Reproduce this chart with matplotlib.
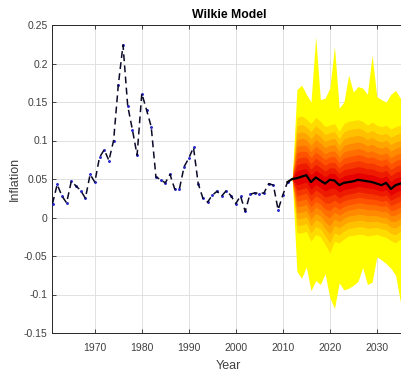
import matplotlib
matplotlib.use("Agg")
import matplotlib.pyplot as plt
import numpy as np

# ---------------- data ----------------
hist_years = list(range(1961, 2012))
hist_infl = [0.018, 0.043, 0.028, 0.019, 0.047, 0.041, 0.035, 0.025, 0.056, 0.046,
             0.078, 0.088, 0.074, 0.100, 0.172, 0.224, 0.145, 0.114, 0.081, 0.161,
             0.140, 0.118, 0.053, 0.049, 0.045, 0.056, 0.037, 0.037, 0.066, 0.077,
             0.091, 0.044, 0.025, 0.020, 0.029, 0.034, 0.028, 0.035, 0.028, 0.018,
             0.028, 0.008, 0.030, 0.032, 0.031, 0.032, 0.044, 0.042, 0.010, 0.029,
             0.046]

proj_years = list(range(2012, 2037))
proj_median = [0.050, 0.051, 0.053, 0.055, 0.046, 0.052, 0.048, 0.044, 0.049, 0.048,
               0.042, 0.045, 0.046, 0.047, 0.049, 0.048, 0.047, 0.046, 0.044, 0.042,
               0.045, 0.037, 0.042, 0.044, 0.045]

# 2013..2036
proj_max = [0.166, 0.172, 0.160, 0.150, 0.235, 0.153, 0.155, 0.168, 0.222, 0.142,
            0.150, 0.185, 0.163, 0.170, 0.168, 0.160, 0.211, 0.157, 0.153, 0.150,
            0.160, 0.165, 0.155, 0.200]
proj_min = [-0.070, -0.079, -0.064, -0.095, -0.082, -0.087, -0.073, -0.104, -0.118, -0.085,
            -0.094, -0.092, -0.088, -0.083, -0.065, -0.087, -0.084, -0.051, -0.055, -0.060,
            -0.066, -0.075, -0.109, -0.090]
proj_p95 = [0.130, 0.132, 0.128, 0.122, 0.130, 0.125, 0.118, 0.120, 0.122, 0.112,
            0.122, 0.125, 0.126, 0.127, 0.125, 0.120, 0.124, 0.120, 0.118, 0.120,
            0.115, 0.118, 0.120, 0.122]
proj_p5 = [-0.020, -0.020, -0.018, -0.031, -0.022, -0.025, -0.035, -0.046, -0.031, -0.033,
           -0.028, -0.024, -0.023, -0.022, -0.022, -0.024, -0.023, -0.022, -0.024, -0.026,
           -0.030, -0.033, -0.028, -0.026]

# relative position of inner band edges between median and p95/p5
band_fracs = [1.0, 0.86, 0.74, 0.63, 0.52, 0.42, 0.32, 0.22, 0.12]

ytick_vals = [-0.15, -0.1, -0.05, 0, 0.05, 0.1, 0.15, 0.2, 0.25]
ytick_labels = ["-0.15", "-0.1", "-0.05", "0", "0.05", "0.1", "0.15", "0.2", "0.25"]
xtick_vals = [1970, 1980, 1990, 2000, 2010, 2020, 2030]

# ---------------- plot ----------------
plt.rcParams['font.family'] = ['Liberation Sans', 'DejaVu Sans']
fig = plt.figure(figsize=(4.02, 3.71), dpi=100)
ax = fig.add_axes([52.5 / 402, 1 - 333 / 371, (405 - 52.5) / 402, (333 - 25) / 371])

px = np.array(proj_years, dtype=float)
med = np.array(proj_median)
mx = np.concatenate([[med[0]], proj_max])
mn = np.concatenate([[med[0]], proj_min])
up95 = np.concatenate([[med[0]], proj_p95])
lo5 = np.concatenate([[med[0]], proj_p5])

nb = len(band_fracs) + 1
ax.fill_between(px, mn, mx, color=(1.0, 1.0, 0.0), lw=0, zorder=2)
for k, f in enumerate(band_fracs, start=1):
    g = (nb - 1 - k) / (nb - 1)
    r = 0.90 + 0.10 * min(1.0, g * 3)
    upper = med + (up95 - med) * f
    lower = med + (lo5 - med) * f
    ax.fill_between(px, lower, upper, color=(r, g * 0.97, 0.0), lw=0, zorder=2 + k * 0.01)

ax.plot([hist_years[-1]] + proj_years, [hist_infl[-1]] + proj_median,
        color='black', lw=1.6, zorder=5)

ax.plot(hist_years, hist_infl, ls='none', marker='.', ms=2.2, color='#2828c8', zorder=4)
ax.plot(hist_years, hist_infl, color='#0a0a28', lw=1.1, dashes=(4.5, 2.8), zorder=4.5)

ax.set_xlim(1961, 2036)
ax.set_ylim(-0.15, 0.25)
ax.set_yticks(ytick_vals)
ax.set_yticklabels(ytick_labels)
ax.set_xticks(xtick_vals)
ax.grid(True, color='#dcdcdc', lw=0.6)
ax.set_axisbelow(True)
ax.tick_params(direction='in', length=3, width=0.6, colors='#262626',
               labelsize=7.5, labelcolor='#404040', top=True, right=False)
ax.tick_params(axis='x', pad=7)
for side in ['left', 'bottom', 'top']:
    ax.spines[side].set_color('#262626')
    ax.spines[side].set_linewidth(0.7)
ax.spines['right'].set_visible(False)

ax.set_title('Wilkie Model', fontsize=8.8, fontweight='bold', pad=5)
ax.set_xlabel('Year', fontsize=9, color='#404040', labelpad=5)
ax.set_ylabel('Inflation', fontsize=9, color='#404040', labelpad=2)

fig.savefig('out.png', dpi=100)
